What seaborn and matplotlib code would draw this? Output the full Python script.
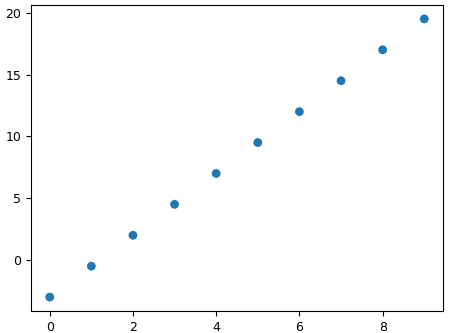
import matplotlib
matplotlib.use("Agg")
import matplotlib.pyplot as plt
import seaborn as sns
import pandas as pd

x_values = [0, 1, 2, 3, 4, 5, 6, 7, 8, 9]
y_values = [-3, -0.5, 2, 4.5, 7, 9.5, 12, 14.5, 17, 19.5]

df = pd.DataFrame({"x": x_values, "y": y_values})

fig = plt.figure(figsize=(4.5, 3.33), dpi=100)
ax = fig.add_axes([31 / 450, 22 / 333, 412 / 450, 306 / 333])
sns.scatterplot(data=df, x="x", y="y", ax=ax, color="#1f77b4", s=40,
                linewidth=0, edgecolor="none")
ax.set_xlabel("")
ax.set_ylabel("y", labelpad=14)
ax.set_xticks([0, 2, 4, 6, 8])
ax.set_yticks([0, 5, 10, 15, 20])
ax.tick_params(labelsize=9)
fig.savefig("out.png", dpi=100)
